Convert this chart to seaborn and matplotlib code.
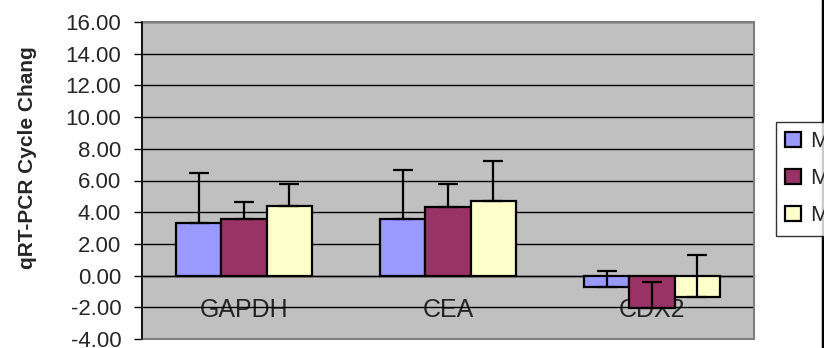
import numpy as np
import matplotlib
matplotlib.use('Agg')
import matplotlib.pyplot as plt
import seaborn as sns
import pandas as pd
from matplotlib.lines import Line2D
from matplotlib.patches import Rectangle

# values
genes = ["GAPDH", "CEA", "CDX2"]
series = ["M1", "M2", "M3"]
means = {
    "M1": [3.35, 3.58, -0.69],
    "M2": [3.58, 4.31, -2.04],
    "M3": [4.40, 4.73, -1.37],
}
errors = {
    "M1": [3.10, 3.11, 1.00],
    "M2": [1.04, 1.48, 1.66],
    "M3": [1.39, 2.53, 2.69],
}
colors = ["#9999FF", "#993366", "#FFFFCC"]

rows = []
for s in series:
    for g, m, e in zip(genes, means[s], errors[s]):
        rows.append({"gene": g, "series": s, "value": m, "err": e})
df = pd.DataFrame(rows)

sns.set_style("white")
plt.rcParams['font.family'] = ['Liberation Sans', 'DejaVu Sans']

fig = plt.figure(figsize=(8.24, 3.48), dpi=100)
ax = fig.add_axes([142 / 824, 1 - 339 / 348, 612 / 824, 317 / 348])
ax.set_facecolor("#C0C0C0")

sns.barplot(data=df, x="gene", y="value", hue="series", order=genes,
            hue_order=series, palette=colors, width=0.667, gap=0,
            errorbar=None, edgecolor="black", linewidth=1.6, ax=ax,
            saturation=1, zorder=3, legend=True)

# one-sided (plus) error bars from the bar ends, like Excel
for i, s in enumerate(series):
    for bar, e in zip(ax.containers[i], errors[s]):
        xc = bar.get_x() + bar.get_width() / 2
        yv = bar.get_y() + bar.get_height()
        ax.errorbar(xc, yv, yerr=[[0], [e]], fmt='none', ecolor='black',
                    elinewidth=1.6, capsize=7, capthick=1.6, zorder=4)

ax.set_ylim(-4, 16)
ax.set_xlim(-0.5, 2.5)
yt = np.arange(-4, 16.1, 2)
ax.set_yticks(yt)
ax.set_yticklabels([f"{v:.2f}" for v in yt], fontsize=16)
ax.yaxis.grid(True, color="black", linewidth=1, zorder=1)
ax.set_axisbelow(True)

# category axis crosses at zero
for sp in ["top", "right"]:
    ax.spines[sp].set_visible(False)
ax.spines["bottom"].set_position(("data", 0))
ax.spines["bottom"].set_color("black")
ax.spines["bottom"].set_linewidth(1)
ax.spines["bottom"].set_zorder(2)
ax.spines["left"].set_color("black")
ax.spines["left"].set_linewidth(1.2)
ax.set_xticks(range(len(genes)))
ax.set_xticklabels(genes, fontsize=18)
ax.set_xticks([0.5, 1.5, 2.5], minor=True)
ax.tick_params(axis="x", which="major", length=0, pad=16)
ax.tick_params(axis="x", which="minor", length=5, width=1, direction="out", color="black")
ax.tick_params(axis="y", length=6, width=1, direction="out", color="black", pad=9, left=True)

# gray plot-area frame
ax.add_patch(Rectangle((0, 0), 1, 1, transform=ax.transAxes, fill=False,
                       edgecolor="#808080", linewidth=1.5, zorder=5, clip_on=False))
ax.plot([0, 0], [0, 1], transform=ax.transAxes, color="black", lw=1.2, zorder=6, clip_on=False)

ax.set_xlabel("")
ax.set_ylabel("qRT-PCR Cycle Chang", fontsize=15, fontweight="bold")
ax.yaxis.set_label_coords(-0.172, 0.571)

handles, labels = ax.get_legend_handles_labels()
ax.get_legend().remove()
leg = fig.legend(handles, labels, loc="upper left",
                 bbox_to_anchor=(776 / 824, 1 - 122 / 348), fontsize=16,
                 frameon=True, fancybox=False, edgecolor="black",
                 handlelength=0.7, handleheight=0.7, handletextpad=0.4,
                 labelspacing=0.72, borderpad=0.42, borderaxespad=0)
leg.get_frame().set_linewidth(1)

# right edge border line
fig.add_artist(Line2D([822.5 / 824, 822.5 / 824], [0, 1], color="black", lw=2.5))

fig.savefig("out.png", dpi=100)
